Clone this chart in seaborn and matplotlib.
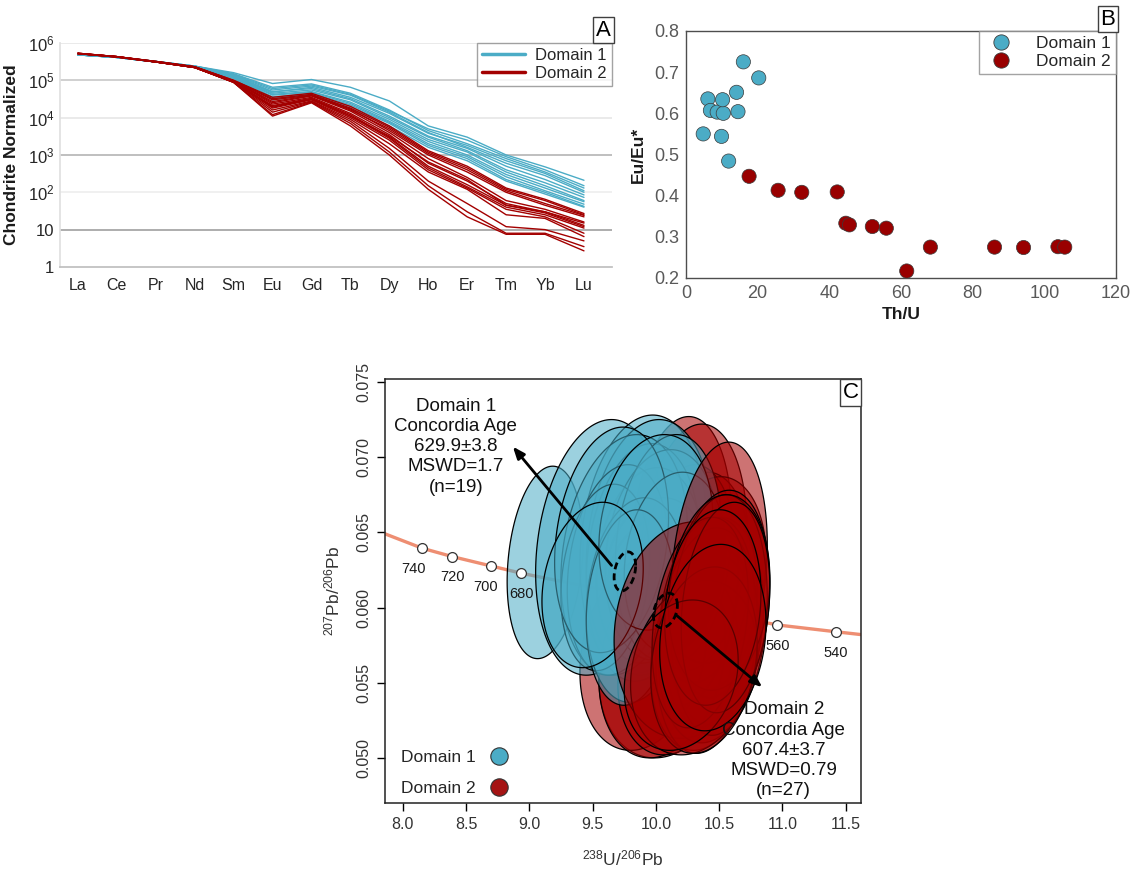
import numpy as np
import pandas as pd
import matplotlib
matplotlib.use("Agg")
import matplotlib.pyplot as plt
import seaborn as sns
from matplotlib.patches import Polygon
from matplotlib.lines import Line2D

# ------------------------------------------------------------------ data
ree = ["La", "Ce", "Pr", "Nd", "Sm", "Eu", "Gd", "Tb", "Dy", "Ho", "Er", "Tm", "Yb", "Lu"]

dom1_ree = [
    [5.0e5, 4.2e5, 3.2e5, 2.4e5, 1.6e5, 8.2e4, 1.05e5, 6.5e4, 2.8e4, 6.0e3, 3.0e3, 1.0e3, 4.8e2, 2.1e2],
    [5.0e5, 4.2e5, 3.2e5, 2.4e5, 1.5e5, 6.5e4, 8.0e4, 4.5e4, 1.6e4, 4.5e3, 2.0e3, 8.0e2, 3.5e2, 1.3e2],
    [4.9e5, 4.2e5, 3.2e5, 2.4e5, 1.4e5, 5.5e4, 7.0e4, 4.0e4, 1.4e4, 4.0e3, 1.6e3, 6.0e2, 2.8e2, 1.0e2],
    [4.9e5, 4.1e5, 3.2e5, 2.3e5, 1.35e5, 5.0e4, 6.0e4, 3.2e4, 1.1e4, 3.2e3, 1.5e3, 5.0e2, 2.2e2, 8.5e1],
    [4.8e5, 4.1e5, 3.1e5, 2.3e5, 1.3e5, 4.5e4, 5.5e4, 3.0e4, 1.0e4, 3.0e3, 1.3e3, 4.0e2, 1.8e2, 7.3e1],
    [4.8e5, 4.1e5, 3.1e5, 2.3e5, 1.25e5, 4.2e4, 5.0e4, 2.6e4, 9.0e3, 2.6e3, 1.2e3, 3.5e2, 1.5e2, 6.0e1],
    [4.8e5, 4.1e5, 3.1e5, 2.3e5, 1.2e5, 4.0e4, 4.8e4, 2.4e4, 8.0e3, 2.3e3, 1.0e3, 3.0e2, 1.3e2, 5.6e1],
    [4.8e5, 4.1e5, 3.1e5, 2.3e5, 1.2e5, 3.6e4, 4.5e4, 2.2e4, 7.5e3, 2.0e3, 9.0e2, 2.6e2, 1.1e2, 4.8e1],
    [4.8e5, 4.1e5, 3.1e5, 2.3e5, 1.15e5, 3.3e4, 4.3e4, 2.0e4, 7.0e3, 1.8e3, 8.0e2, 2.2e2, 1.0e2, 4.2e1],
    [4.8e5, 4.1e5, 3.1e5, 2.3e5, 1.1e5, 3.0e4, 4.0e4, 1.8e4, 6.0e3, 1.6e3, 7.0e2, 2.0e2, 9.0e1, 4.0e1],
    [4.8e5, 4.1e5, 3.1e5, 2.3e5, 1.3e5, 4.8e4, 6.5e4, 3.5e4, 1.3e4, 3.8e3, 1.8e3, 7.0e2, 3.2e2, 1.1e2],
    [4.9e5, 4.2e5, 3.2e5, 2.4e5, 1.45e5, 6.0e4, 7.5e4, 4.2e4, 1.5e4, 5.0e3, 2.5e3, 9.0e2, 4.0e2, 1.5e2],
]
dom2_ree = [
    [5.3e5, 4.3e5, 3.2e5, 2.3e5, 1.0e5, 3.5e4, 4.5e4, 2.0e4, 6.0e3, 1.3e3, 5.0e2, 1.3e2, 6.5e1, 2.7e1],
    [5.3e5, 4.3e5, 3.2e5, 2.3e5, 1.0e5, 3.2e4, 4.2e4, 1.8e4, 5.5e3, 1.2e3, 4.5e2, 1.2e2, 6.0e1, 2.5e1],
    [5.3e5, 4.3e5, 3.2e5, 2.3e5, 9.5e4, 3.0e4, 4.0e4, 1.6e4, 5.0e3, 1.1e3, 4.0e2, 1.1e2, 5.0e1, 2.4e1],
    [5.2e5, 4.3e5, 3.1e5, 2.3e5, 9.5e4, 2.5e4, 3.8e4, 1.5e4, 4.0e3, 8.0e2, 2.5e2, 6.0e1, 3.5e1, 1.6e1],
    [5.2e5, 4.3e5, 3.1e5, 2.2e5, 9.5e4, 2.3e4, 3.5e4, 1.3e4, 3.5e3, 6.0e2, 2.0e2, 5.0e1, 3.0e1, 1.3e1],
    [5.2e5, 4.3e5, 3.1e5, 2.2e5, 9.0e4, 2.1e4, 3.3e4, 1.2e4, 3.0e3, 5.0e2, 1.6e2, 4.5e1, 2.8e1, 1.2e1],
    [5.2e5, 4.3e5, 3.1e5, 2.2e5, 9.0e4, 2.0e4, 3.2e4, 1.1e4, 2.8e3, 4.5e2, 1.4e2, 4.0e1, 2.5e1, 1.1e1],
    [5.2e5, 4.2e5, 3.1e5, 2.2e5, 9.0e4, 1.8e4, 3.0e4, 1.0e4, 2.5e3, 4.0e2, 1.3e2, 3.5e1, 2.2e1, 8.0],
    [5.2e5, 4.2e5, 3.1e5, 2.2e5, 9.0e4, 1.6e4, 2.8e4, 9.0e3, 2.0e3, 3.5e2, 1.2e2, 2.5e1, 2.0e1, 6.5],
    [5.2e5, 4.2e5, 3.1e5, 2.2e5, 8.8e4, 1.4e4, 2.7e4, 8.0e3, 1.5e3, 2.0e2, 5.0e1, 1.2e1, 1.0e1, 5.0],
    [5.2e5, 4.2e5, 3.1e5, 2.2e5, 8.8e4, 1.2e4, 2.6e4, 7.0e3, 1.2e3, 1.5e2, 3.0e1, 8.0, 8.0, 3.5],
    [5.2e5, 4.2e5, 3.1e5, 2.2e5, 8.8e4, 1.1e4, 2.5e4, 6.0e3, 1.0e3, 1.2e2, 2.2e1, 7.5, 7.5, 2.7],
    [5.3e5, 4.3e5, 3.2e5, 2.3e5, 9.5e4, 2.7e4, 3.9e4, 1.7e4, 4.5e3, 1.0e3, 3.5e2, 1.0e2, 4.5e1, 2.2e1],
    [5.2e5, 4.3e5, 3.1e5, 2.2e5, 9.2e4, 1.9e4, 3.1e4, 1.1e4, 3.2e3, 6.5e2, 2.2e2, 4.5e1, 3.0e1, 1.5e1],
]

# Panel B
d1_thu = [4.8, 6.1, 6.8, 8.7, 10.4, 10.2, 9.9, 14.1, 14.5, 16.0, 20.3, 11.9]
d1_eu = [0.550, 0.635, 0.607, 0.603, 0.600, 0.633, 0.544, 0.651, 0.604, 0.725, 0.686, 0.484]
d2_thu = [17.6, 25.7, 32.3, 42.2, 44.6, 45.6, 52.0, 55.9, 61.6, 68.2, 86.1, 94.2, 103.8, 105.7]
d2_eu = [0.447, 0.413, 0.408, 0.409, 0.333, 0.329, 0.325, 0.321, 0.217, 0.275, 0.275, 0.274, 0.276, 0.275]

# Panel C: error ellipses (centre, half-widths, correlation, drawing layer)
d1_x = [9.125, 9.55, 9.90, 9.95, 9.90, 9.95, 10.00, 10.00, 9.75, 9.70, 10.05, 9.60, 10.10, 9.85, 9.65, 10.15, 9.80, 10.00, 9.50]
d1_y = [0.0630, 0.0640, 0.0642, 0.0640, 0.0630, 0.0628, 0.0625, 0.0620, 0.0635, 0.0625, 0.0635, 0.0620, 0.0640, 0.0605, 0.0645, 0.0630, 0.0600, 0.0650, 0.0615]
d1_sx = [0.30, 0.50, 0.50, 0.50, 0.45, 0.42, 0.40, 0.38, 0.50, 0.40, 0.45, 0.35, 0.42, 0.40, 0.45, 0.40, 0.35, 0.45, 0.40]
d1_sy = [0.0064, 0.0085, 0.0086, 0.0085, 0.0079, 0.0065, 0.0048, 0.0040, 0.0080, 0.0070, 0.0070, 0.0062, 0.0075, 0.0068, 0.0075, 0.0060, 0.0065, 0.0065, 0.0055]
d1_rho = [0.20, 0.20, 0.15, 0.15, 0.15, 0.15, 0.15, 0.15, 0.20, 0.20, 0.15, 0.20, 0.15, 0.15, 0.20, 0.15, 0.15, 0.15, 0.20]

d2_x = [10.25, 10.20, 10.30, 10.50, 10.50, 10.10, 9.90, 10.05, 10.38, 10.45, 10.45, 10.42, 10.15, 10.40, 10.35, 10.40, 10.50, 10.30, 10.35, 10.50, 10.25, 10.38, 10.55, 10.45, 10.45, 10.20, 10.45]
d2_y = [0.0585, 0.0645, 0.0640, 0.0625, 0.0600, 0.0565, 0.0570, 0.0565, 0.0570, 0.0590, 0.0605, 0.0575, 0.0560, 0.0590, 0.0620, 0.0578, 0.0595, 0.0560, 0.0590, 0.0610, 0.0615, 0.0565, 0.0600, 0.0600, 0.0625, 0.0555, 0.0580]
d2_sx = [0.58, 0.40, 0.42, 0.38, 0.40, 0.55, 0.50, 0.50, 0.42, 0.40, 0.35, 0.40, 0.45, 0.38, 0.40, 0.40, 0.38, 0.50, 0.38, 0.40, 0.40, 0.42, 0.35, 0.38, 0.42, 0.45, 0.42]
d2_sy = [0.0072, 0.0082, 0.0082, 0.0085, 0.0078, 0.0065, 0.0065, 0.0065, 0.0065, 0.0070, 0.0060, 0.0065, 0.0058, 0.0070, 0.0070, 0.0075, 0.0080, 0.0058, 0.0070, 0.0065, 0.0080, 0.0062, 0.0070, 0.0065, 0.0062, 0.0050, 0.0062]
d2_rho = [0.10, 0.15, 0.15, 0.20, 0.20, 0.20, 0.20, 0.20, 0.20, 0.15, 0.15, 0.15, 0.20, 0.20, 0.15, 0.20, 0.15, 0.20, 0.25, 0.15, 0.15, 0.20, 0.20, 0.15, 0.15, 0.20, 0.15]
d2_layer = [3, 1, 1, 3, 3, 1, 1, 1, 3, 3, 3, 3, 1, 3, 1, 3, 3, 3, 3, 3, 1, 3, 3, 3, 1, 3, 3]

# concordia-age ellipses
ca_x = [9.755, 10.075]
ca_y = [0.0624, 0.0598]
ca_sx = [0.085, 0.095]
ca_sy = [0.0013, 0.00115]
ca_rho = [0.3, 0.3]

# concordia curve and age markers
conc_line_x = [7.86, 8.155, 8.39, 8.695, 8.937, 10.96, 11.42, 11.62]
conc_line_y = [0.0649, 0.06394, 0.06339, 0.06277, 0.06228, 0.05884, 0.05839, 0.0582]
conc_age = [740, 720, 700, 680, 560, 540]
conc_age_x = [8.155, 8.39, 8.695, 8.937, 10.96, 11.42]
conc_age_y = [0.06394, 0.06339, 0.06277, 0.06228, 0.05884, 0.05839]

# annotations
d1_text = "Domain 1\nConcordia Age\n629.9±3.8\nMSWD=1.7\n(n=19)"
d2_text = "Domain 2\nConcordia Age\n607.4±3.7\nMSWD=0.79\n(n=27)"

# ------------------------------------------------------------------ style
BLUE = "#4BACC6"
RED = "#A30000"
sns.set_theme(style="white")
plt.rcParams["font.family"] = ["Liberation Sans", "DejaVu Sans"]
plt.rcParams["mathtext.fontset"] = "custom"
plt.rcParams["mathtext.rm"] = "Liberation Sans"
plt.rcParams["mathtext.it"] = "Liberation Sans:italic"
plt.rcParams["mathtext.bf"] = "Liberation Sans:bold"

fig = plt.figure(figsize=(11.3, 8.75), dpi=100)


def panel_tag(ax, s, x, y, ha, va):
    ax.text(x, y, s, transform=ax.transAxes, ha=ha, va=va, fontsize=16, color="black",
            bbox=dict(boxstyle="square,pad=0.12", fc="white", ec="#404040", lw=1), zorder=20)


# ------------------------------------------------------------------ Panel A
axA = fig.add_axes([0.0531, 0.6949, 0.4885, 0.256])
rows = []
for i, vals in enumerate(dom1_ree):
    for el, v in zip(ree, vals):
        rows.append(("Domain 1", "a%d" % i, el, v))
for i, vals in enumerate(dom2_ree):
    for el, v in zip(ree, vals):
        rows.append(("Domain 2", "b%d" % i, el, v))
dfA = pd.DataFrame(rows, columns=["domain", "sample", "element", "value"])
sns.lineplot(data=dfA, x="element", y="value", hue="domain", units="sample", estimator=None,
             palette={"Domain 1": BLUE, "Domain 2": RED}, lw=1.0, sort=False, legend=False, ax=axA)
axA.set_yscale("log")
axA.set_ylim(1, 1e6)
axA.set_xlim(-0.46, 13.72)
grid_vals = [10, 1e2, 1e3, 1e4, 1e5, 1e6]
grid_cols = ["#A0A0A0", "#EDEDED", "#B4B4B4", "#E6E6E6", "#C8C8C8", "#E6E6E6"]
for gv, gc in zip(grid_vals, grid_cols):
    axA.axhline(gv, color=gc, lw=1.2, zorder=0)
axA.set_yticks([1, 10, 1e2, 1e3, 1e4, 1e5, 1e6])
axA.set_yticklabels(["1", "10", "$10^2$", "$10^3$", "$10^4$", "$10^5$", "$10^6$"])
axA.minorticks_off()
axA.tick_params(axis="y", length=0, labelsize=12, labelcolor="#262626", pad=4)
axA.tick_params(axis="x", length=4, color="#C8C8C8", labelsize=11.5, labelcolor="#262626", pad=4)
axA.set_xlabel("")
axA.set_ylabel("Chondrite Normalized", fontsize=12.5, fontweight="bold", color="#1a1a1a", labelpad=6)
for sp in ["top", "right"]:
    axA.spines[sp].set_visible(False)
axA.spines["left"].set_color("#E0E0E0")
axA.spines["bottom"].set_color("#BFBFBF")
hA = [Line2D([], [], color=BLUE, lw=2.5), Line2D([], [], color=RED, lw=2.5)]
legA = axA.legend(hA, ["Domain 1", "Domain 2"], loc="upper right", bbox_to_anchor=(1.0, 1.0),
                  fontsize=12, frameon=True, fancybox=False, edgecolor="#8C8C8C", borderaxespad=0,
                  handlelength=2.6, handletextpad=0.6, labelspacing=0.2, borderpad=0.3)
legA.get_frame().set_linewidth(1.0)
panel_tag(axA, "A", 0.998, 1.01, "right", "bottom")

# ------------------------------------------------------------------ Panel B
axB = fig.add_axes([0.6071, 0.6823, 0.3805, 0.2823])
dfB = pd.DataFrame({
    "ThU": d1_thu + d2_thu,
    "EuEu": d1_eu + d2_eu,
    "domain": ["Domain 1"] * len(d1_thu) + ["Domain 2"] * len(d2_thu),
})
sns.scatterplot(data=dfB, x="ThU", y="EuEu", hue="domain",
                palette={"Domain 1": BLUE, "Domain 2": "#990000"}, s=105,
                edgecolor="#3a3a3a", linewidth=0.5, legend=False, ax=axB, zorder=3)
axB.set_xlim(0, 120)
axB.set_ylim(0.2, 0.8)
axB.set_xticks(range(0, 121, 20))
axB.set_yticks([0.2, 0.3, 0.4, 0.5, 0.6, 0.7, 0.8])
axB.set_yticklabels(["0.2", "0.3", "0.4", "0.5", "0.6", "0.7", "0.8"])
axB.tick_params(axis="both", length=0, labelsize=13, labelcolor="#595959", pad=5)
axB.set_xlabel("Th/U", fontsize=12.5, fontweight="bold", color="#1a1a1a", labelpad=4)
axB.set_ylabel("Eu/Eu*", fontsize=12.5, fontweight="bold", color="#1a1a1a", labelpad=6)
for sp in axB.spines.values():
    sp.set_color("#4d4d4d")
    sp.set_linewidth(1.0)
hB = [Line2D([], [], marker="o", ls="", ms=11, mfc=BLUE, mec="#3a3a3a", mew=0.6),
      Line2D([], [], marker="o", ls="", ms=11, mfc="#990000", mec="#3a3a3a", mew=0.6)]
legB = axB.legend(hB, ["Domain 1", "Domain 2"], loc="upper right", bbox_to_anchor=(1.0, 1.0),
                  fontsize=12.5, frameon=True, fancybox=False, edgecolor="#8C8C8C", borderaxespad=0,
                  handletextpad=1.0, labelspacing=0.15, borderpad=0.3)
panel_tag(axB, "B", 0.998, 1.005, "right", "bottom")

# ------------------------------------------------------------------ Panel C
axC = fig.add_axes([0.3407, 0.0823, 0.4212, 0.4846])
axC.set_xlim(7.86, 11.62)
axC.set_ylim(0.0470, 0.0752)

sns.lineplot(x=conc_line_x, y=conc_line_y, sort=False, color="#EE8E72", lw=2.4, ax=axC, zorder=1)


def ellipse_xy(cx, cy, sx, sy, rho, n=240):
    t = np.linspace(0, 2 * np.pi, n)
    ex = cx + sx * np.cos(t)
    ey = cy + sy * (rho * np.cos(t) + np.sqrt(1 - rho ** 2) * np.sin(t))
    return np.column_stack([ex, ey])


blue_rgba = matplotlib.colors.to_rgba(BLUE, 0.55)
red_rgba = matplotlib.colors.to_rgba("#A50000", 0.55)
for k, (cx, cy, sx, sy, r) in enumerate(zip(d1_x, d1_y, d1_sx, d1_sy, d1_rho)):
    axC.add_patch(Polygon(ellipse_xy(cx, cy, sx, sy, r), closed=True, fc=blue_rgba, ec="black",
                          lw=0.9, zorder=2 + k * 0.001))
for k, (cx, cy, sx, sy, r, lay) in enumerate(zip(d2_x, d2_y, d2_sx, d2_sy, d2_rho, d2_layer)):
    axC.add_patch(Polygon(ellipse_xy(cx, cy, sx, sy, r), closed=True, fc=red_rgba, ec="black",
                          lw=0.9, zorder=lay + k * 0.001))
for cx, cy, sx, sy, r in zip(ca_x, ca_y, ca_sx, ca_sy, ca_rho):
    axC.add_patch(Polygon(ellipse_xy(cx, cy, sx, sy, r), closed=True, fill=False, ec="black",
                          lw=2.0, ls=(0, (2.5, 1.5)), zorder=5))

sns.scatterplot(x=conc_age_x, y=conc_age_y, s=50, color="white", edgecolor="#333333",
                linewidth=0.9, ax=axC, zorder=6, legend=False)
label_off = [(-6, -15), (0, -15), (-4, -15), (0, -15), (0, -15), (0, -15)]
for a, xx, yy, off in zip(conc_age, conc_age_x, conc_age_y, label_off):
    axC.annotate(str(a), (xx, yy), xytext=off, textcoords="offset points", ha="center", va="center",
                 fontsize=10.5, color="#1a1a1a", zorder=7)

# arrows
axC.annotate("", xy=(8.87, 0.0707), xytext=(9.65, 0.0628),
             arrowprops=dict(arrowstyle="-|>,head_length=0.5,head_width=0.2", lw=2.0, color="black",
                             mutation_scale=14, shrinkA=0, shrinkB=0), zorder=8)
axC.annotate("", xy=(10.84, 0.0547), xytext=(10.16, 0.0595),
             arrowprops=dict(arrowstyle="-|>,head_length=0.5,head_width=0.2", lw=2.0, color="black",
                             mutation_scale=14, shrinkA=0, shrinkB=0), zorder=8)

axC.text(8.42, 0.0707, d1_text, ha="center", va="center", fontsize=13.5, linespacing=1.25, color="#111111", zorder=9)
axC.text(11.01, 0.0505, d2_text, ha="center", va="center", fontsize=13.5, linespacing=1.25, color="#111111", zorder=9)

axC.set_xticks([8.0, 8.5, 9.0, 9.5, 10.0, 10.5, 11.0, 11.5])
axC.set_xticklabels(["8.0", "8.5", "9.0", "9.5", "10.0", "10.5", "11.0", "11.5"])
axC.set_yticks([0.050, 0.055, 0.060, 0.065, 0.070, 0.075])
axC.set_yticklabels(["0.050", "0.055", "0.060", "0.065", "0.070", "0.075"], rotation=90, va="center")
axC.tick_params(axis="both", direction="out", length=6, width=1, color="black",
                labelsize=11.5, labelcolor="#333333", pad=4, bottom=True, left=True)
axC.set_xlabel("$^{238}$U/$^{206}$Pb", fontsize=12.5, color="#333333", labelpad=12)
axC.set_ylabel("$^{207}$Pb/$^{206}$Pb", fontsize=12.5, color="#333333", labelpad=10)
for sp in axC.spines.values():
    sp.set_color("#222222")
    sp.set_linewidth(1.1)

hC = [Line2D([], [], marker="o", ls="", ms=12.5, mfc=BLUE, mec="#333333", mew=0.8),
      Line2D([], [], marker="o", ls="", ms=12.5, mfc="#A51414", mec="#333333", mew=0.8)]
axC.legend(hC, ["Domain 1", "Domain 2"], loc="lower left", bbox_to_anchor=(0.0, -0.02),
           markerfirst=False, frameon=False, fontsize=12.5, handletextpad=0.35, labelspacing=0.9)
panel_tag(axC, "C", 0.995, 0.993, "right", "top")

fig.savefig("out.png", dpi=100)
